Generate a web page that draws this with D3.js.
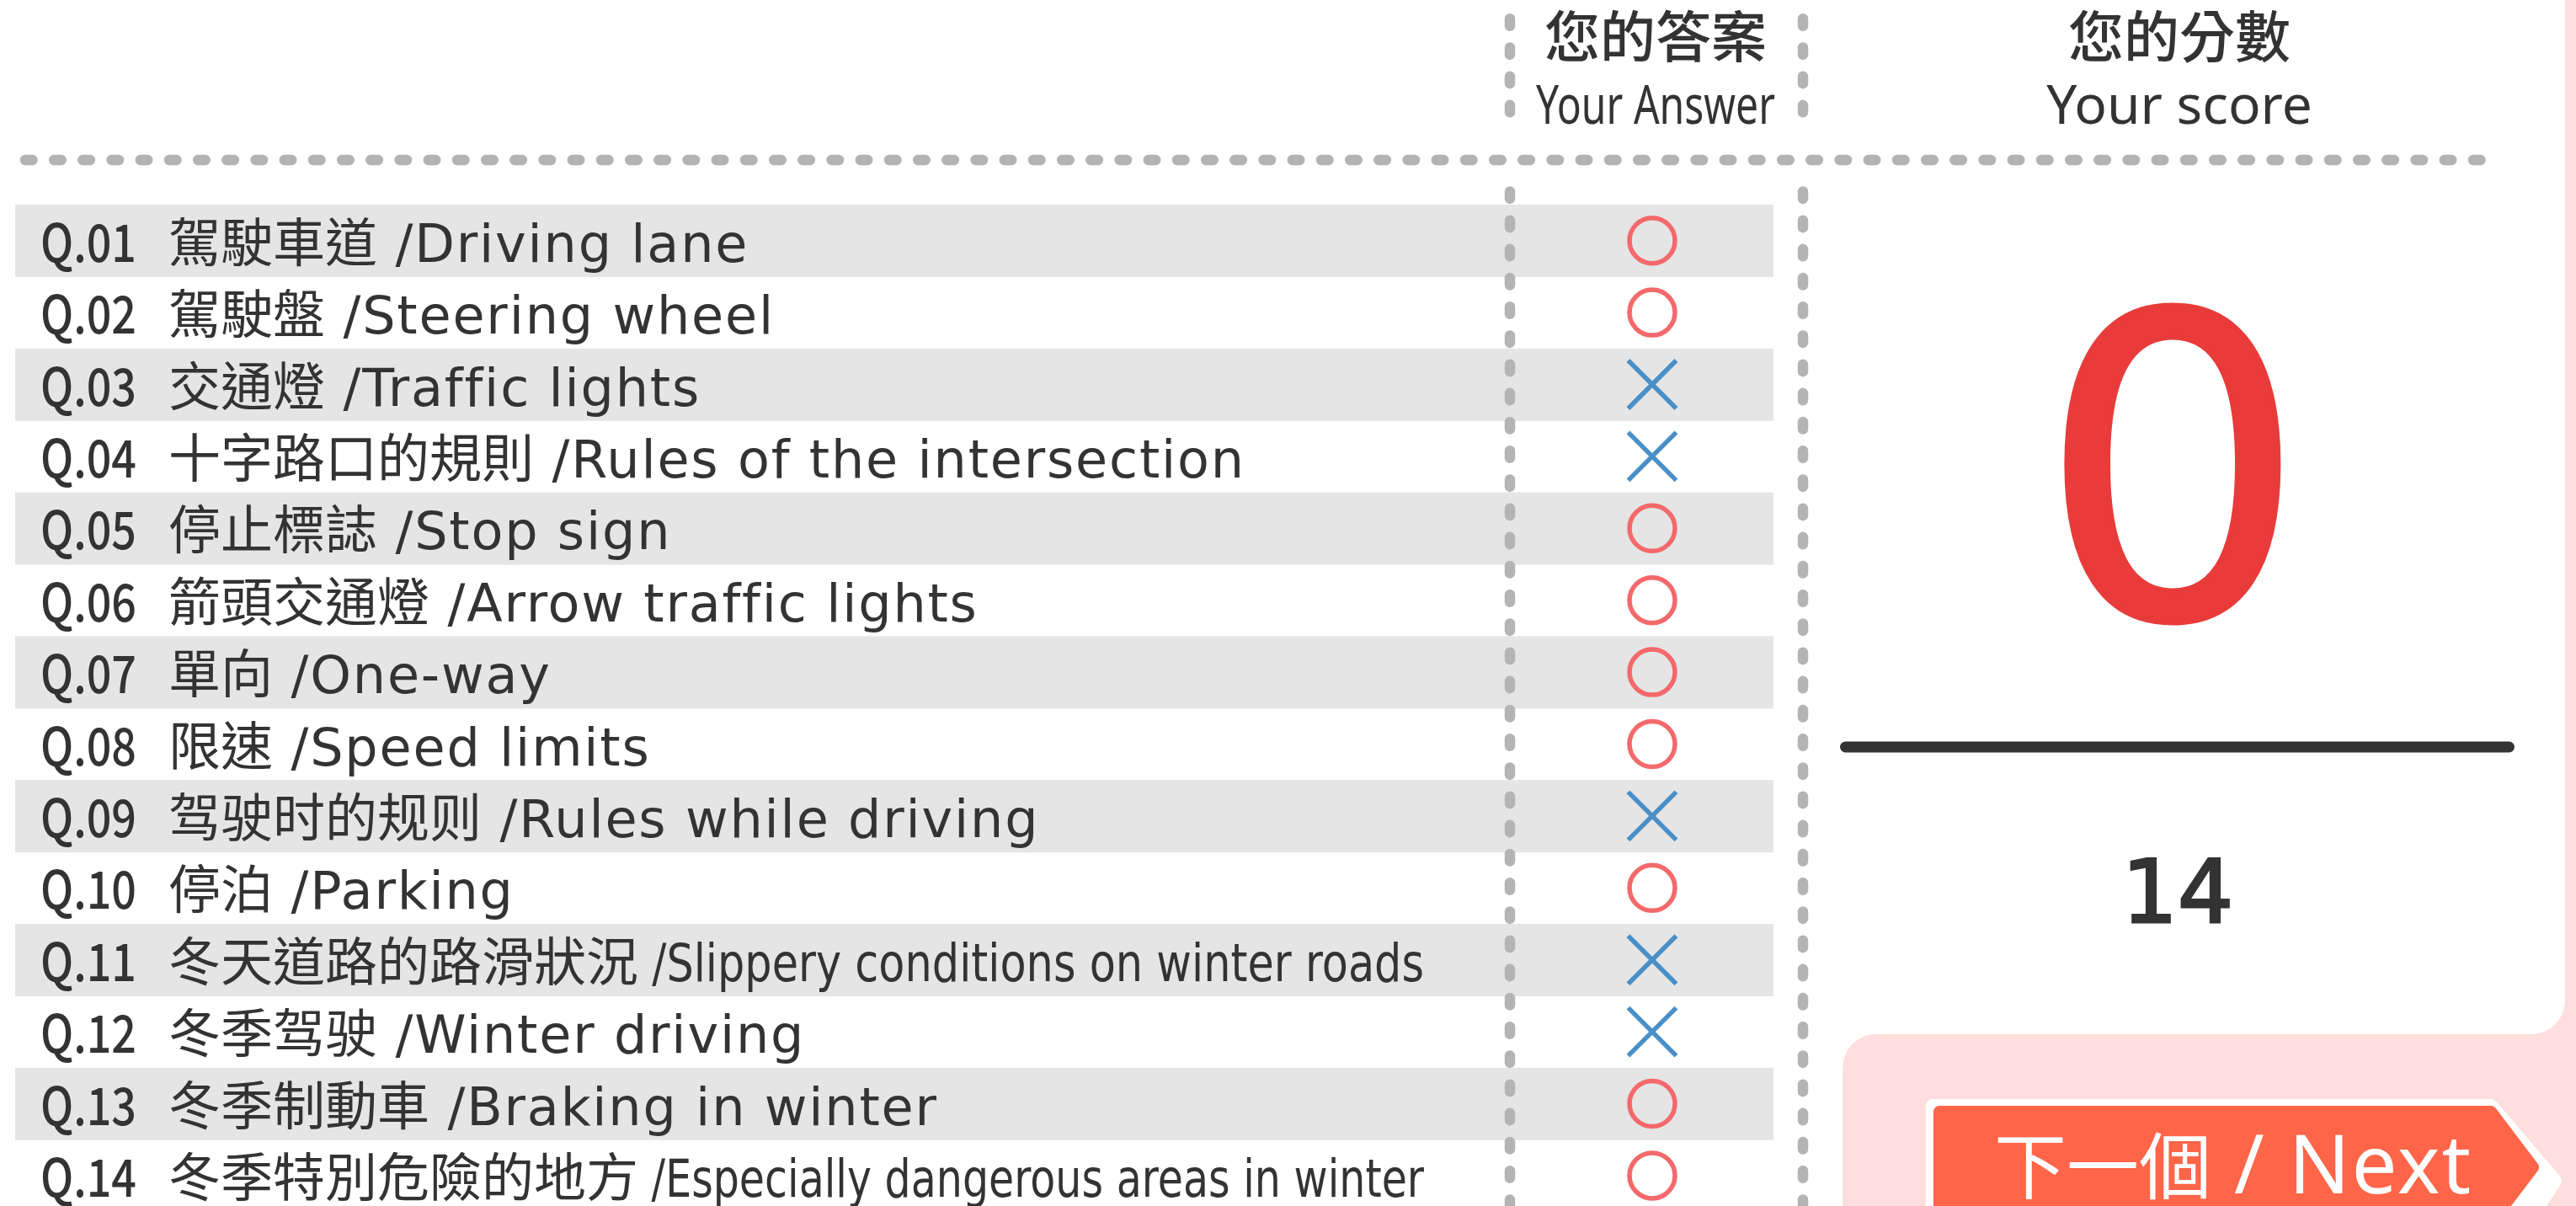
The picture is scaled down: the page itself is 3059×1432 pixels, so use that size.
<!DOCTYPE html>
<html>
<head>
<meta charset="utf-8">
<script src="https://cdn.jsdelivr.net/npm/d3@7"></script>
<style>
  html, body { margin: 0; padding: 0; background: #ffffff; }
  svg { display: block; }
  text { white-space: pre; }
</style>
</head>
<body>
<script>
// ---------------- data ----------------
const questionIds = ["Q.01","Q.02","Q.03","Q.04","Q.05","Q.06","Q.07","Q.08","Q.09","Q.10","Q.11","Q.12","Q.13","Q.14"];
const questionZh = ["駕駛車道","駕駛盤","交通燈","十字路口的規則","停止標誌","箭頭交通燈","單向","限速","驾驶时的规则","停泊","冬天道路的路滑狀況","冬季驾驶","冬季制動車","冬季特別危險的地方"];
const questionEn = ["Driving lane","Steering wheel","Traffic lights","Rules of the intersection","Stop sign","Arrow traffic lights","One-way","Speed limits","Rules while driving","Parking","Slippery conditions on winter roads","Winter driving","Braking in winter","Especially dangerous areas in winter"];
const answers = ["O","O","X","X","O","O","O","O","X","O","X","X","O","O"];
const headerZh = ["您的答案","您的分數"];
const headerEn = ["Your Answer","Your score"];
const scoreValue = "0";
const totalValue = "14";
const nextZh = "下一個";
const nextEn = " / Next";

// ---------------- layout ----------------
const W = 3059, H = 1432;
const svg = d3.select("body").append("svg").attr("width", W).attr("height", H);

const GRAY = "#b4b4b4", INK = "#333333", PINK = "#fedfdd";
const colAnsL = 1793, colAnsR = 2141, markX = 1962, scoreX = 2586;

// background panels
svg.append("rect").attr("x", 3000).attr("y", -10).attr("width", 100).attr("height", H + 20).attr("fill", PINK);
svg.append("rect").attr("x", 2188).attr("y", 1228).attr("width", 1000).attr("height", 400).attr("rx", 40).attr("fill", PINK);
svg.append("rect").attr("x", 1000).attr("y", -100).attr("width", 2046).attr("height", 1328).attr("rx", 40).attr("fill", "#ffffff");

// row scale
const y = d3.scaleBand().domain(d3.range(questionIds.length)).range([243, 243 + 85.4 * questionIds.length]).paddingInner(0);

// gray bands
svg.append("g").selectAll("rect")
  .data(d3.range(questionIds.length).filter(i => i % 2 === 0))
  .join("rect")
  .attr("x", 18).attr("width", 2106 - 18)
  .attr("y", i => y(i)).attr("height", 86)
  .attr("fill", "#e5e5e5");

// dashed lines
const pitch = 34.2, dashLen = 8.5;
function dashed(x1, y1, x2, y2) {
  svg.append("line").attr("x1", x1).attr("y1", y1).attr("x2", x2).attr("y2", y2)
    .attr("stroke", GRAY).attr("stroke-width", 12.5).attr("stroke-linecap", "round")
    .attr("stroke-dasharray", dashLen + " " + (pitch - dashLen));
}
dashed(30, 190, 2946, 190);
[colAnsL, colAnsR].forEach(x => {
  dashed(x, 22.25, x, 22.25 + pitch * 3 + dashLen);
  dashed(x, 22.25 + pitch * 6, x, H + 20);
});

// headers
const headerCenters = [1966, 2588];
const headerMaxW = [(colAnsR - colAnsL) - 64, 800];
const hdr = svg.append("g").attr("fill", INK);
headerZh.forEach((t, i) => {
  hdr.append("text").attr("x", headerCenters[i]).attr("y", 68).attr("text-anchor", "middle")
    .attr("font-family", "'Noto Sans CJK TC'").attr("font-weight", 500).attr("font-size", 66).text(t);
});
headerEn.forEach((t, i) => {
  const el = hdr.append("text").attr("x", headerCenters[i]).attr("y", 147).attr("text-anchor", "middle")
    .attr("font-family", "'Noto Sans', 'Noto Sans CJK TC'").attr("font-size", 64).text(t);
  if (el.node().getComputedTextLength() > headerMaxW[i]) {
    el.attr("textLength", headerMaxW[i]).attr("lengthAdjust", "spacingAndGlyphs");
  }
});

// rows text
const labelX = 200, labelMaxRight = 1691;
const rows = svg.append("g").attr("fill", INK);
questionIds.forEach((q, i) => {
  const base = y(i) + y.bandwidth() / 2 + 25;
  rows.append("text").attr("x", 48).attr("y", base)
    .attr("font-family", "'Noto Sans CJK TC'").attr("font-weight", 500).attr("font-size", 62)
    .attr("textLength", 114).attr("lengthAdjust", "spacingAndGlyphs").text(q);
  const zh = rows.append("text").attr("x", labelX).attr("y", base)
    .attr("font-family", "'Noto Sans CJK TC'").attr("font-size", 62).text(questionZh[i]);
  const zx = labelX + zh.node().getComputedTextLength();
  const en = rows.append("text").attr("x", zx).attr("y", base)
    .attr("font-family", "'DejaVu Sans', 'Noto Sans CJK TC'").attr("font-size", 62)
    .attr("letter-spacing", 1.8).text(" /" + questionEn[i]);
  const ew = en.node().getComputedTextLength();
  if (zx + ew > labelMaxRight) {
    en.attr("letter-spacing", 0).attr("textLength", labelMaxRight - zx).attr("lengthAdjust", "spacingAndGlyphs");
  }
});

// answer marks
const marks = svg.append("g");
answers.forEach((a, i) => {
  const cy = y(i) + y.bandwidth() / 2;
  if (a === "O") {
    marks.append("circle").attr("cx", markX).attr("cy", cy).attr("r", 27)
      .attr("fill", "none").attr("stroke", "#f4696b").attr("stroke-width", 5.5);
  } else {
    const s = 28.5;
    marks.append("path")
      .attr("d", `M${markX - s},${cy - s}L${markX + s},${cy + s}M${markX + s},${cy - s}L${markX - s},${cy + s}`)
      .attr("fill", "none").attr("stroke", "#4a8fc6").attr("stroke-width", 5.5);
  }
});

// score
svg.append("text").attr("x", scoreX - 6).attr("y", 733).attr("text-anchor", "middle")
  .attr("font-family", "'DejaVu Sans'").attr("font-size", 500).attr("fill", "#e83b3a")
  .attr("stroke", "#e83b3a").attr("stroke-width", 5).text(scoreValue);
svg.append("line").attr("x1", 2191.5).attr("x2", 2979.5).attr("y1", 887).attr("y2", 887)
  .attr("stroke", INK).attr("stroke-width", 13).attr("stroke-linecap", "round");
svg.append("text").attr("x", scoreX).attr("y", 1095).attr("text-anchor", "middle")
  .attr("font-family", "'DejaVu Sans'").attr("font-size", 104).attr("fill", INK)
  .attr("stroke", INK).attr("stroke-width", 3).text(totalValue);

// next button
const btn = svg.append("g");
btn.append("path")
  .attr("d", "M2295,1313L2958,1313L3034,1402L2958,1520L2295,1520Z")
  .attr("fill", "#ffffff").attr("stroke", "#ffffff").attr("stroke-width", 16).attr("stroke-linejoin", "round");
btn.append("path")
  .attr("d", "M2303,1320L2958,1320L3008,1386L2958,1452L2303,1452Z")
  .attr("fill", "#ff6548").attr("stroke", "#ff6548").attr("stroke-width", 14).attr("stroke-linejoin", "round");
const bt = btn.append("text").attr("x", 2368).attr("y", 1417).attr("fill", "#ffffff");
bt.append("tspan").attr("font-family", "'Noto Sans CJK TC'").attr("font-size", 86).text(nextZh);
bt.append("tspan").attr("font-family", "'Noto Sans', 'Noto Sans CJK TC'").attr("font-size", 96).attr("letter-spacing", 2).text(nextEn);
</script>
</body>
</html>
